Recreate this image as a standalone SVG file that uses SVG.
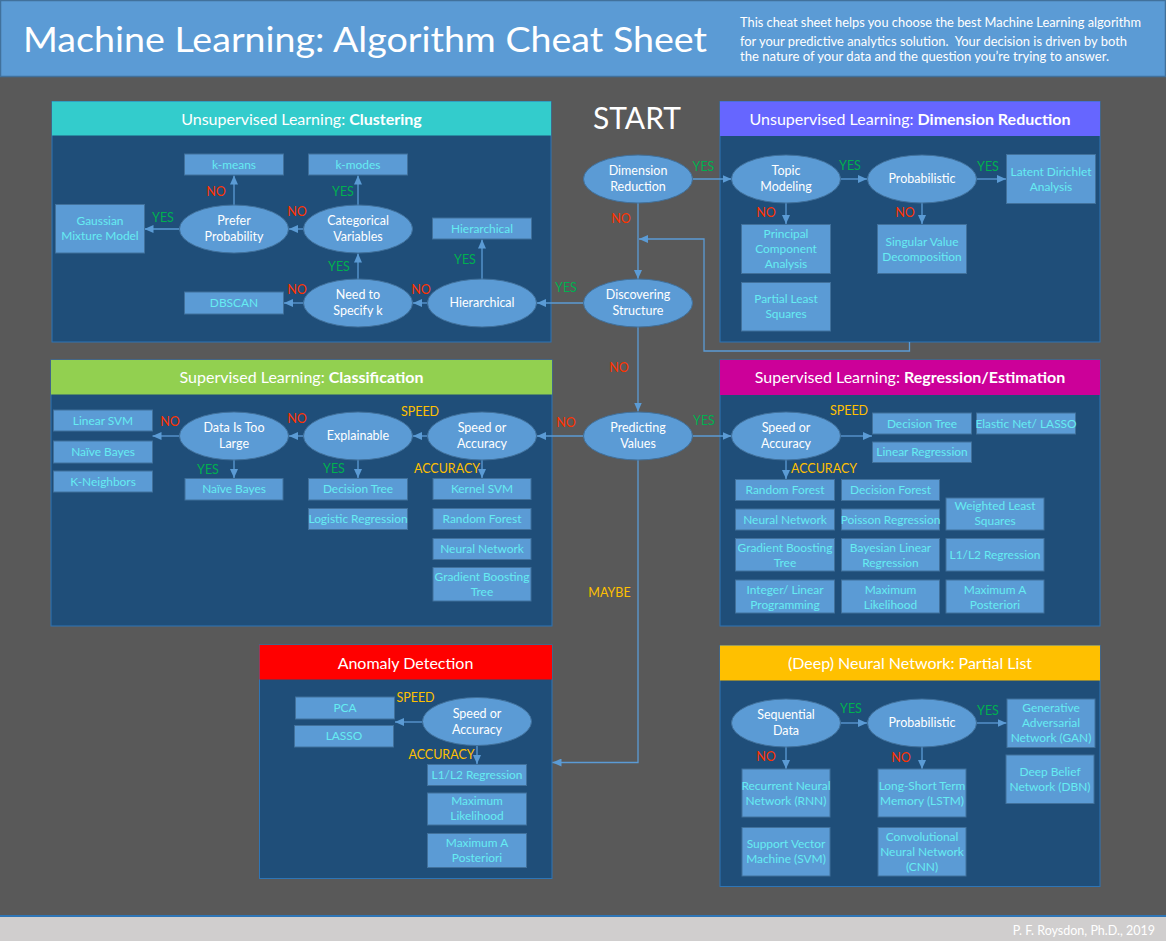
<svg xmlns="http://www.w3.org/2000/svg" width="1166" height="941" viewBox="0 0 1166 941">
  <defs>
    <marker id="arrow" markerUnits="userSpaceOnUse" markerWidth="9" markerHeight="8" refX="9" refY="4" orient="auto">
      <path d="M0,0 L9,4 L0,8 z" fill="#5B9BD5"/>
    </marker>
    <style>
      text { font-family: Lato, "Open Sans", "Liberation Sans", sans-serif; }
      .panel { fill: #1F4E79; stroke: #2E75B6; stroke-width: 1; }
      .ptitle { fill: #FFFFFF; font-size: 16px; text-anchor: middle; }
      .ptitle tspan.b { font-weight: bold; }
      .dec { fill: #5B9BD5; stroke: #41719C; stroke-width: 1; }
      .dtxt { fill: #FFFFFF; font-size: 12.5px; text-anchor: middle; }
      .box { fill: #5B9BD5; stroke: #41719C; stroke-width: 1; }
      .btxt { fill: #66ECF2; font-size: 11.9px; text-anchor: middle; }
      .conn { fill: none; stroke: #5B9BD5; stroke-width: 1.3; marker-end: url(#arrow); }
      .yes { fill: #00B050; font-size: 12.5px; text-anchor: middle; }
      .no { fill: #FF3300; font-size: 12.5px; text-anchor: middle; }
      .opt { fill: #FFC000; font-size: 12.5px; text-anchor: middle; }
    </style>
  </defs>

  <!-- page background -->
  <rect x="0" y="0" width="1166" height="941" fill="#595959"/>

  <!-- title banner -->
  <g id="banner">
    <rect x="0.5" y="0.5" width="1165" height="76" fill="#5B9BD5" stroke="#41719C" stroke-width="1.5"/>
    <text x="23" y="52" font-size="35" fill="#FFFFFF" textLength="684" lengthAdjust="spacingAndGlyphs">Machine Learning: Algorithm Cheat Sheet</text>
    <text x="740" y="27" font-size="13" fill="#FFFFFF" textLength="401" lengthAdjust="spacingAndGlyphs">This cheat sheet helps you choose the best Machine Learning algorithm</text>
    <text x="740" y="46" font-size="13" fill="#FFFFFF" textLength="387" lengthAdjust="spacingAndGlyphs" xml:space="preserve">for your predictive analytics solution.  Your decision is driven by both</text>
    <text x="740" y="61" font-size="13" fill="#FFFFFF" textLength="369" lengthAdjust="spacingAndGlyphs">the nature of your data and the question you’re trying to answer.</text>
  </g>

  <!-- footer -->
  <g id="footer">
    <rect x="0" y="917" width="1166" height="24" fill="#D0CECE"/>
    <line x1="0" y1="916" x2="1166" y2="916" stroke="#2E75B6" stroke-width="2"/>
    <text x="1155" y="935" font-size="12.5" fill="#FFFFFF" text-anchor="end">P. F. Roysdon, Ph.D., 2019</text>
  </g>

  <!-- section panels -->
  <g id="panel-clustering">
    <rect class="panel" x="52" y="101.5" width="499" height="240.5"/>
    <rect x="52" y="101.5" width="499" height="34" fill="#33CCCC"/>
    <text class="ptitle" x="301.5" y="124.5">Unsupervised Learning: <tspan class="b">Clustering</tspan></text>
  </g>
  <g id="panel-dimension">
    <rect class="panel" x="720" y="101.5" width="380" height="240.5"/>
    <rect x="720" y="101.5" width="380" height="34.5" fill="#6666FF"/>
    <text class="ptitle" x="910" y="124.5">Unsupervised Learning: <tspan class="b">Dimension Reduction</tspan></text>
  </g>
  <g id="panel-classification">
    <rect class="panel" x="51" y="360" width="501" height="266"/>
    <rect x="51" y="360" width="501" height="34.5" fill="#92D050"/>
    <text class="ptitle" x="301.5" y="383">Supervised Learning: <tspan class="b">Classification</tspan></text>
  </g>
  <g id="panel-regression">
    <rect class="panel" x="720" y="360" width="380" height="266"/>
    <rect x="720" y="360" width="380" height="35" fill="#CC0099"/>
    <text class="ptitle" x="910" y="383">Supervised Learning: <tspan class="b">Regression/Estimation</tspan></text>
  </g>
  <g id="panel-anomaly">
    <rect class="panel" x="259.5" y="645" width="292.5" height="233.5"/>
    <rect x="259.5" y="645" width="292.5" height="34.5" fill="#FF0000"/>
    <text class="ptitle" x="405.5" y="668.5">Anomaly Detection</text>
  </g>
  <g id="panel-neural">
    <rect class="panel" x="720" y="645.5" width="380" height="241"/>
    <rect x="720" y="645.5" width="380" height="35" fill="#FFC000"/>
    <text class="ptitle" x="910" y="669">(Deep) Neural Network: Partial List</text>
  </g>

  <text id="start" x="637" y="129" font-size="30" fill="#FFFFFF" text-anchor="middle">START</text>

  <!-- connectors -->
  <g id="connectors">
    <path class="conn" d="M234,205 V175.5"/>
    <path class="conn" d="M358,205 V175.5"/>
    <path class="conn" d="M303.5,229 H289"/>
    <path class="conn" d="M179.5,229 H144.5"/>
    <path class="conn" d="M358,279 V253.5"/>
    <path class="conn" d="M303.5,303 H284"/>
    <path class="conn" d="M427.5,303 H413"/>
    <path class="conn" d="M482,279 V239.5"/>
    <path class="conn" d="M583.5,303 H537"/>
    <path class="conn" d="M692.5,179 H731.5"/>
    <path class="conn" d="M840.5,179 H867"/>
    <path class="conn" d="M976.5,179 H1006"/>
    <path class="conn" d="M786,203 V224"/>
    <path class="conn" d="M922,203 V224"/>
    <path class="conn" d="M638,203 V279"/>
    <path class="conn" d="M909.5,342 V351 H704 V239 H639"/>
    <path class="conn" d="M638,327 V411.5"/>
    <path class="conn" d="M583.5,436 H537"/>
    <path class="conn" d="M692.5,436 H731.5"/>
    <path class="conn" d="M638,460 V762.5 H552.5"/>
    <path class="conn" d="M427.5,436 H413"/>
    <path class="conn" d="M303.5,436 H289"/>
    <path class="conn" d="M179.5,436 H152.5"/>
    <path class="conn" d="M234,460 V478"/>
    <path class="conn" d="M358,460 V478"/>
    <path class="conn" d="M482,460 V478"/>
    <path class="conn" d="M840.5,436 H872"/>
    <path class="conn" d="M786,460 V479"/>
    <path class="conn" d="M422,722 H395"/>
    <path class="conn" d="M477,745 V764"/>
    <path class="conn" d="M840.5,723 H867"/>
    <path class="conn" d="M976.5,723 H1006.5"/>
    <path class="conn" d="M786,747 V769"/>
    <path class="conn" d="M922,747 V769"/>
  </g>

  <!-- branch labels -->
  <g id="labels">
    <text class="no" x="216" y="195.5">NO</text>
    <text class="yes" x="343" y="195.5">YES</text>
    <text class="no" x="297" y="215.5">NO</text>
    <text class="yes" x="163" y="221.5">YES</text>
    <text class="yes" x="339" y="270.5">YES</text>
    <text class="no" x="297" y="294">NO</text>
    <text class="no" x="421" y="294">NO</text>
    <text class="yes" x="465" y="263.5">YES</text>
    <text class="yes" x="566" y="291.5">YES</text>
    <text class="yes" x="703.5" y="170.5">YES</text>
    <text class="yes" x="850" y="169.5">YES</text>
    <text class="yes" x="988" y="170.5">YES</text>
    <text class="no" x="766" y="216.5">NO</text>
    <text class="no" x="905" y="216.5">NO</text>
    <text class="no" x="621" y="222.5">NO</text>
    <text class="no" x="619" y="371.5">NO</text>
    <text class="no" x="566" y="427">NO</text>
    <text class="yes" x="704" y="424.5">YES</text>
    <text class="opt" x="609.5" y="597">MAYBE</text>
    <text class="no" x="170" y="426">NO</text>
    <text class="no" x="297" y="422.5">NO</text>
    <text class="opt" x="420" y="416">SPEED</text>
    <text class="yes" x="208" y="473.5">YES</text>
    <text class="yes" x="334" y="472.5">YES</text>
    <text class="opt" x="447" y="472.5">ACCURACY</text>
    <text class="opt" x="849" y="415">SPEED</text>
    <text class="opt" x="824" y="473">ACCURACY</text>
    <text class="opt" x="415.5" y="702">SPEED</text>
    <text class="opt" x="441.5" y="759">ACCURACY</text>
    <text class="yes" x="851" y="712.5">YES</text>
    <text class="yes" x="988" y="715">YES</text>
    <text class="no" x="766" y="761">NO</text>
    <text class="no" x="901" y="761.5">NO</text>
  </g>

  <!-- decision nodes -->
  <g id="dimension-reduction"><ellipse class="dec" cx="638" cy="179" rx="54.5" ry="24"/><text class="dtxt" x="638" y="175">Dimension</text><text class="dtxt" x="638" y="191">Reduction</text></g>
  <g id="topic-modeling"><ellipse class="dec" cx="786" cy="179" rx="54.5" ry="24"/><text class="dtxt" x="786" y="175">Topic</text><text class="dtxt" x="786" y="191">Modeling</text></g>
  <g id="probabilistic-dr"><ellipse class="dec" cx="922" cy="179" rx="54.5" ry="24"/><text class="dtxt" x="922" y="183">Probabilistic</text></g>
  <g id="discovering-structure"><ellipse class="dec" cx="638" cy="303" rx="54.5" ry="24"/><text class="dtxt" x="638" y="299">Discovering</text><text class="dtxt" x="638" y="315">Structure</text></g>
  <g id="predicting-values"><ellipse class="dec" cx="638" cy="436" rx="54.5" ry="24"/><text class="dtxt" x="638" y="432">Predicting</text><text class="dtxt" x="638" y="448">Values</text></g>
  <g id="prefer-probability"><ellipse class="dec" cx="234" cy="229" rx="54.5" ry="24"/><text class="dtxt" x="234" y="225">Prefer</text><text class="dtxt" x="234" y="241">Probability</text></g>
  <g id="categorical-variables"><ellipse class="dec" cx="358" cy="229" rx="54.5" ry="24"/><text class="dtxt" x="358" y="225">Categorical</text><text class="dtxt" x="358" y="241">Variables</text></g>
  <g id="need-to-specify-k"><ellipse class="dec" cx="358" cy="303" rx="54.5" ry="24"/><text class="dtxt" x="358" y="299">Need to</text><text class="dtxt" x="358" y="315">Specify k</text></g>
  <g id="hierarchical-q"><ellipse class="dec" cx="482" cy="303" rx="54.5" ry="24"/><text class="dtxt" x="482" y="307">Hierarchical</text></g>
  <g id="data-too-large"><ellipse class="dec" cx="234" cy="436" rx="54.5" ry="24"/><text class="dtxt" x="234" y="432">Data Is Too</text><text class="dtxt" x="234" y="448">Large</text></g>
  <g id="explainable"><ellipse class="dec" cx="358" cy="436" rx="54.5" ry="24"/><text class="dtxt" x="358" y="440">Explainable</text></g>
  <g id="speed-accuracy-cls"><ellipse class="dec" cx="482" cy="436" rx="54.5" ry="24"/><text class="dtxt" x="482" y="432">Speed or</text><text class="dtxt" x="482" y="448">Accuracy</text></g>
  <g id="speed-accuracy-reg"><ellipse class="dec" cx="786" cy="436" rx="54.5" ry="24"/><text class="dtxt" x="786" y="432">Speed or</text><text class="dtxt" x="786" y="448">Accuracy</text></g>
  <g id="speed-accuracy-anom"><ellipse class="dec" cx="477" cy="721.5" rx="54.5" ry="24"/><text class="dtxt" x="477" y="717.5">Speed or</text><text class="dtxt" x="477" y="733.5">Accuracy</text></g>
  <g id="sequential-data"><ellipse class="dec" cx="786" cy="723" rx="54.5" ry="24"/><text class="dtxt" x="786" y="719">Sequential</text><text class="dtxt" x="786" y="735">Data</text></g>
  <g id="probabilistic-nn"><ellipse class="dec" cx="922" cy="723" rx="54.5" ry="24"/><text class="dtxt" x="922" y="727">Probabilistic</text></g>

  <!-- clustering algorithms -->
  <g id="k-means"><rect class="box" x="184.5" y="154" width="99" height="21"/><text class="btxt" x="234" y="168.5">k-means</text></g>
  <g id="k-modes"><rect class="box" x="308.5" y="154" width="99" height="21"/><text class="btxt" x="358" y="168.5">k-modes</text></g>
  <g id="gmm"><rect class="box" x="55.5" y="204.5" width="89" height="48.5"/><text class="btxt" x="100" y="225">Gaussian</text><text class="btxt" x="100" y="240">Mixture Model</text></g>
  <g id="hierarchical"><rect class="box" x="432.5" y="218" width="99" height="21"/><text class="btxt" x="482" y="232.5">Hierarchical</text></g>
  <g id="dbscan"><rect class="box" x="184.5" y="292" width="99" height="22"/><text class="btxt" x="234" y="307">DBSCAN</text></g>

  <!-- dimension reduction algorithms -->
  <g id="lda"><rect class="box" x="1006.5" y="154.5" width="89" height="49"/><text class="btxt" x="1051" y="175.5">Latent Dirichlet</text><text class="btxt" x="1051" y="190.5">Analysis</text></g>
  <g id="pca-dr"><rect class="box" x="741.5" y="224.5" width="89" height="49"/><text class="btxt" x="786" y="238">Principal</text><text class="btxt" x="786" y="253">Component</text><text class="btxt" x="786" y="268">Analysis</text></g>
  <g id="pls"><rect class="box" x="741.5" y="282.5" width="89" height="48.5"/><text class="btxt" x="786" y="303">Partial Least</text><text class="btxt" x="786" y="318">Squares</text></g>
  <g id="svd"><rect class="box" x="877.5" y="224.5" width="89" height="49"/><text class="btxt" x="922" y="245.5">Singular Value</text><text class="btxt" x="922" y="260.5">Decomposition</text></g>

  <!-- classification algorithms -->
  <g id="linear-svm"><rect class="box" x="53.5" y="410" width="99" height="21"/><text class="btxt" x="103" y="424.5">Linear SVM</text></g>
  <g id="naive-bayes-a"><rect class="box" x="53.5" y="441" width="99" height="22"/><text class="btxt" x="103" y="456">Naïve Bayes</text></g>
  <g id="k-neighbors"><rect class="box" x="53.5" y="471" width="99" height="21"/><text class="btxt" x="103" y="485.5">K-Neighbors</text></g>
  <g id="naive-bayes-b"><rect class="box" x="185" y="478.5" width="98" height="21.5"/><text class="btxt" x="234" y="493">Naïve Bayes</text></g>
  <g id="decision-tree-cls"><rect class="box" x="308.5" y="478.5" width="99" height="21.5"/><text class="btxt" x="358" y="493">Decision Tree</text></g>
  <g id="logistic-regression"><rect class="box" x="308.5" y="508.5" width="99" height="21"/><text class="btxt" x="358" y="523">Logistic Regression</text></g>
  <g id="kernel-svm"><rect class="box" x="433" y="478.5" width="98" height="21"/><text class="btxt" x="482" y="493">Kernel SVM</text></g>
  <g id="random-forest-cls"><rect class="box" x="433" y="508.5" width="98" height="21"/><text class="btxt" x="482" y="523">Random Forest</text></g>
  <g id="neural-network-cls"><rect class="box" x="433" y="538.5" width="98" height="21"/><text class="btxt" x="482" y="553">Neural Network</text></g>
  <g id="gbt-cls"><rect class="box" x="433" y="567.5" width="98" height="33.5"/><text class="btxt" x="482" y="581">Gradient Boosting</text><text class="btxt" x="482" y="596">Tree</text></g>

  <!-- regression algorithms -->
  <g id="decision-tree-reg"><rect class="box" x="872.5" y="413" width="99" height="21"/><text class="btxt" x="922" y="427.5">Decision Tree</text></g>
  <g id="elastic-net"><rect class="box" x="976.5" y="413" width="99" height="21"/><text class="btxt" x="1026" y="427.5">Elastic Net/ LASSO</text></g>
  <g id="linear-regression"><rect class="box" x="872.5" y="442" width="99" height="20.5"/><text class="btxt" x="922" y="456">Linear Regression</text></g>
  <g id="random-forest-reg"><rect class="box" x="735.5" y="479.5" width="99" height="21"/><text class="btxt" x="785" y="494">Random Forest</text></g>
  <g id="decision-forest"><rect class="box" x="841.5" y="479.5" width="98" height="21"/><text class="btxt" x="890.5" y="494">Decision Forest</text></g>
  <g id="neural-network-reg"><rect class="box" x="735.5" y="509" width="99" height="21"/><text class="btxt" x="785" y="523.5">Neural Network</text></g>
  <g id="poisson-regression"><rect class="box" x="841.5" y="509" width="98" height="21"/><text class="btxt" x="890.5" y="523.5">Poisson Regression</text></g>
  <g id="weighted-least-squares"><rect class="box" x="946" y="498" width="98" height="32"/><text class="btxt" x="995" y="510">Weighted Least</text><text class="btxt" x="995" y="525">Squares</text></g>
  <g id="gbt-reg"><rect class="box" x="735.5" y="538.5" width="99" height="32.5"/><text class="btxt" x="785" y="551.5">Gradient Boosting</text><text class="btxt" x="785" y="566.5">Tree</text></g>
  <g id="bayesian-linear"><rect class="box" x="841.5" y="538.5" width="98" height="32.5"/><text class="btxt" x="890.5" y="551.5">Bayesian Linear</text><text class="btxt" x="890.5" y="566.5">Regression</text></g>
  <g id="l1l2-reg"><rect class="box" x="946" y="538.5" width="98" height="32.5"/><text class="btxt" x="995" y="559">L1/L2 Regression</text></g>
  <g id="integer-linear"><rect class="box" x="735.5" y="580" width="99" height="33"/><text class="btxt" x="785" y="593.5">Integer/ Linear</text><text class="btxt" x="785" y="608.5">Programming</text></g>
  <g id="max-likelihood-reg"><rect class="box" x="841.5" y="580" width="98" height="33"/><text class="btxt" x="890.5" y="593.5">Maximum</text><text class="btxt" x="890.5" y="608.5">Likelihood</text></g>
  <g id="map-reg"><rect class="box" x="946" y="580" width="98" height="33"/><text class="btxt" x="995" y="593.5">Maximum A</text><text class="btxt" x="995" y="608.5">Posteriori</text></g>

  <!-- anomaly detection algorithms -->
  <g id="pca-anom"><rect class="box" x="295.5" y="697" width="99" height="22"/><text class="btxt" x="345" y="712">PCA</text></g>
  <g id="lasso-anom"><rect class="box" x="294.5" y="725.5" width="99" height="21.5"/><text class="btxt" x="344" y="740">LASSO</text></g>
  <g id="l1l2-anom"><rect class="box" x="427.5" y="764.5" width="99" height="21"/><text class="btxt" x="477" y="779">L1/L2 Regression</text></g>
  <g id="max-likelihood-anom"><rect class="box" x="427.5" y="793" width="99" height="32"/><text class="btxt" x="477" y="805">Maximum</text><text class="btxt" x="477" y="820">Likelihood</text></g>
  <g id="map-anom"><rect class="box" x="427.5" y="833.5" width="99" height="34"/><text class="btxt" x="477" y="847">Maximum A</text><text class="btxt" x="477" y="862">Posteriori</text></g>

  <!-- neural network families -->
  <g id="gan"><rect class="box" x="1007" y="699" width="88" height="48.5"/><text class="btxt" x="1051" y="712">Generative</text><text class="btxt" x="1051" y="727">Adversarial</text><text class="btxt" x="1051" y="742">Network (GAN)</text></g>
  <g id="dbn"><rect class="box" x="1006" y="755" width="88" height="48.5"/><text class="btxt" x="1050" y="775.5">Deep Belief</text><text class="btxt" x="1050" y="790.5">Network (DBN)</text></g>
  <g id="rnn"><rect class="box" x="742" y="769" width="88" height="48"/><text class="btxt" x="786" y="789.5">Recurrent Neural</text><text class="btxt" x="786" y="804.5">Network (RNN)</text></g>
  <g id="svm-nn"><rect class="box" x="742" y="827.5" width="88" height="48.5"/><text class="btxt" x="786" y="848">Support Vector</text><text class="btxt" x="786" y="863">Machine (SVM)</text></g>
  <g id="lstm"><rect class="box" x="878" y="769" width="88" height="48"/><text class="btxt" x="922" y="789.5">Long-Short Term</text><text class="btxt" x="922" y="804.5">Memory (LSTM)</text></g>
  <g id="cnn"><rect class="box" x="878" y="827.5" width="88" height="48.5"/><text class="btxt" x="922" y="841">Convolutional</text><text class="btxt" x="922" y="856">Neural Network</text><text class="btxt" x="922" y="871">(CNN)</text></g>
</svg>
